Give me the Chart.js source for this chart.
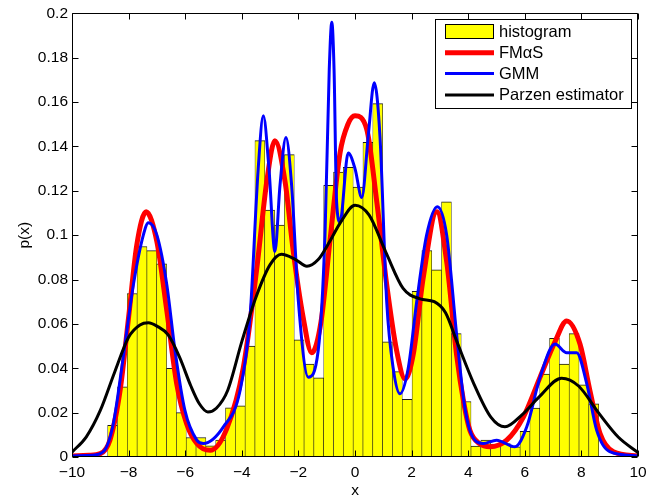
<!DOCTYPE html>
<html>
<head>
<meta charset="utf-8">
<script src="https://cdn.jsdelivr.net/npm/chart.js@4.4.1/dist/chart.umd.min.js"></script>
<style>
  body { margin: 0; background: #fff; }
  #wrap { width: 659px; height: 500px; }
</style>
</head>
<body>
<div id="wrap"><canvas id="pdfChart" width="659" height="500"></canvas></div>
<script>
// histogram: 50 bins, first edge and bin width
const histStart = -8.74;
const binWidth = 0.347;
const histValues = [
  0.0143, 0.0316, 0.0737, 0.0949, 0.0930, 0.0871, 0.0400, 0.0200, 0.0088, 0.0088,
  0.0050, 0.0076, 0.0222, 0.0231, 0.0500, 0.1426, 0.1113, 0.1045, 0.1363, 0.0528,
  0.0419, 0.0357, 0.1225, 0.1284, 0.1306, 0.1217, 0.1418, 0.1593, 0.0519, 0.0385,
  0.0260, 0.0747, 0.0931, 0.0844, 0.1150, 0.0556, 0.0250, 0.0049, 0.0076, 0.0058,
  0.0061, 0.0046, 0.0116, 0.0220, 0.0374, 0.0535, 0.0419, 0.0556, 0.0325, 0.0240
];

// FMaS curve (red)
const fmasX = [-10, -9.4, -9.0, -8.66, -8.3, -8.0, -7.71, -7.38, -7.0, -6.65, -6.3, -5.95, -5.59, -5.12,
  -4.53, -3.95, -3.47, -3.12, -2.83, -2.47, -2.18, -1.83, -1.53, -1.2, -0.88, -0.53, -0.25, 0, 0.41, 0.77,
  1.12, 1.47, 1.77, 2.06, 2.41, 2.89, 3.24, 3.59, 3.85, 4.06, 4.4, 4.77, 5.36, 5.95, 6.54, 7.07, 7.48,
  7.95, 8.3, 8.66, 9.13, 10];
const fmasY = [0.0005, 0.0008, 0.0015, 0.0076, 0.030, 0.063, 0.0956, 0.1105, 0.097, 0.066, 0.033, 0.015, 0.0061, 0.003,
  0.0128, 0.040, 0.085, 0.124, 0.1426, 0.124, 0.0926, 0.0628, 0.047, 0.061, 0.098, 0.137, 0.150, 0.1538, 0.148, 0.115,
  0.0777, 0.048, 0.0352, 0.0464, 0.0807, 0.1105, 0.088, 0.046, 0.024, 0.012, 0.006, 0.0046, 0.0076, 0.018, 0.036, 0.052, 0.0613,
  0.0509, 0.030, 0.0106, 0.0024, 0.0005];

// GMM curve (blue)
const gmmX = [-10, -9.3, -8.89, -8.54, -8.19, -7.83, -7.48, -7.3, -7.0, -6.65, -6.36, -6.01, -5.59, -5.36,
  -4.65, -4.06, -3.71, -3.42, -3.24, -3.04, -2.83, -2.65, -2.44, -2.24, -2.0, -1.65, -1.3, -1.06, -0.91,
  -0.82, -0.74, -0.65, -0.53, -0.24, 0, 0.24, 0.47, 0.68, 0.88, 1.12, 1.35, 1.59, 1.88, 2.18, 2.53, 2.91,
  3.24, 3.59, 3.85, 4.06, 4.53, 5.0, 5.65, 6.07, 6.54, 7.07, 7.48, 7.83, 8.19, 8.54, 9.0, 10];
const gmmY = [0.0005, 0.0008, 0.0024, 0.015, 0.045, 0.0777, 0.100, 0.1056, 0.100, 0.0777, 0.048, 0.021, 0.0076, 0.0061,
  0.0136, 0.030, 0.063, 0.130, 0.1538, 0.130, 0.0926, 0.1225, 0.144, 0.1225, 0.070, 0.036, 0.048, 0.100, 0.1746,
  0.196, 0.1746, 0.115, 0.106, 0.137, 0.130, 0.117, 0.145, 0.1687, 0.145, 0.070, 0.040, 0.0285, 0.040, 0.070, 0.100, 0.1128,
  0.100, 0.0553, 0.025, 0.012, 0.0061, 0.0076, 0.0046, 0.0136, 0.036, 0.0509, 0.047, 0.047, 0.033, 0.012, 0.0024, 0.0005];

// Parzen estimator (black)
const parzenX = [-10, -9.5, -9.0, -8.5, -8.0, -7.6, -7.3, -7.0, -6.6, -6.2, -5.8, -5.5, -5.2, -4.9, -4.5, -4.0,
  -3.5, -3.0, -2.6, -2.1, -1.7, -1.3, -0.9, -0.5, 0, 0.5, 1.1, 1.7, 2.3, 2.8, 3.2, 3.6, 4.2, 4.8, 5.3, 5.9,
  6.5, 7.3, 7.9, 8.6, 9.3, 10];
const parzenY = [0.0022, 0.009, 0.021, 0.038, 0.054, 0.0595, 0.0605, 0.059, 0.055, 0.045, 0.032, 0.024, 0.0203, 0.022, 0.030, 0.052,
  0.072, 0.0867, 0.0914, 0.089, 0.086, 0.089, 0.097, 0.106, 0.1135, 0.109, 0.092, 0.076, 0.0713, 0.070, 0.065, 0.052, 0.033, 0.018, 0.0136, 0.019,
  0.027, 0.0355, 0.032, 0.020, 0.009, 0.002];

const xTicks = [-10, -8, -6, -4, -2, 0, 2, 4, 6, 8, 10];
const yTicks = [0, 0.02, 0.04, 0.06, 0.08, 0.1, 0.12, 0.14, 0.16, 0.18, 0.2];

const seriesNames = ['histogram', 'FM\u03b1S', 'GMM', 'Parzen estimator'];
const seriesColors = ['#ffff00', '#ff0000', '#0000ff', '#000000'];

const FONT = 'Liberation Sans, Arial, Helvetica, sans-serif';

function pts(xs, ys) {
  return xs.map((x, i) => ({ x: x, y: ys[i] }));
}

const histData = histValues.map((v, i) => ({ x: histStart + binWidth * (i + 0.5), y: v }));

// frame + inward ticks on all four sides, matlab style
const boxPlugin = {
  id: 'boxPlugin',
  afterDatasetsDraw(chart) {
    const { ctx, chartArea: a, scales: { x, y } } = chart;
    const L = Math.round(a.left) + 0.5, R = Math.round(a.right) - 0.5;
    const T = Math.round(a.top) + 0.5, B = Math.round(a.bottom) - 0.5;
    ctx.save();
    ctx.strokeStyle = '#000';
    ctx.lineWidth = 1;
    ctx.beginPath();
    ctx.rect(L, T, R - L, B - T);
    xTicks.forEach(v => {
      const px = Math.round(x.getPixelForValue(v)) + 0.5;
      ctx.moveTo(px, B); ctx.lineTo(px, B - 6);
      ctx.moveTo(px, T); ctx.lineTo(px, T + 6);
    });
    yTicks.forEach(v => {
      const py = Math.round(y.getPixelForValue(v)) + 0.5;
      ctx.moveTo(L, py); ctx.lineTo(L + 6, py);
      ctx.moveTo(R, py); ctx.lineTo(R - 6, py);
    });
    ctx.stroke();
    ctx.restore();
  }
};

// legend box in the top right corner
const legendPlugin = {
  id: 'legendPlugin',
  afterDraw(chart) {
    const ctx = chart.ctx;
    const bx = 435.5, by = 19.5, bw = 196, bh = 89;
    ctx.save();
    ctx.fillStyle = '#fff';
    ctx.fillRect(bx, by, bw, bh);
    ctx.strokeStyle = '#000';
    ctx.lineWidth = 1;
    ctx.strokeRect(bx, by, bw, bh);
    const rows = [31.5, 52.7, 73.5, 95];
    const widths = [0, 5, 3, 3];
    rows.forEach((ry, i) => {
      if (i === 0) {
        ctx.fillStyle = seriesColors[0];
        ctx.fillRect(445.5, 24.5, 48, 14);
        ctx.strokeStyle = '#000';
        ctx.lineWidth = 1;
        ctx.strokeRect(445.5, 24.5, 48, 14);
      } else {
        ctx.strokeStyle = seriesColors[i];
        ctx.lineWidth = widths[i];
        ctx.beginPath();
        ctx.moveTo(445, ry);
        ctx.lineTo(494, ry);
        ctx.stroke();
      }
      ctx.fillStyle = '#000';
      ctx.font = '16.5px ' + FONT;
      ctx.textBaseline = 'middle';
      ctx.textAlign = 'left';
      ctx.fillText(seriesNames[i], 499, ry + 0.5);
    });
    ctx.restore();
  }
};

const ctx = document.getElementById('pdfChart').getContext('2d');
const pdfChart = new Chart(ctx, {
  type: 'bar',
  data: {
    datasets: [
      {
        type: 'line', label: seriesNames[3], data: pts(parzenX, parzenY),
        borderColor: seriesColors[3], borderWidth: 3, pointRadius: 0,
        cubicInterpolationMode: 'monotone', order: 0
      },
      {
        type: 'line', label: seriesNames[2], data: pts(gmmX, gmmY),
        borderColor: seriesColors[2], borderWidth: 3, pointRadius: 0,
        cubicInterpolationMode: 'monotone', order: 1
      },
      {
        type: 'line', label: seriesNames[1], data: pts(fmasX, fmasY),
        borderColor: seriesColors[1], borderWidth: 5, pointRadius: 0,
        cubicInterpolationMode: 'monotone', order: 2
      },
      {
        type: 'bar', label: seriesNames[0], data: histData,
        backgroundColor: seriesColors[0], borderColor: '#1a1a1a',
        borderWidth: { left: 0.6, right: 0.6, top: 1, bottom: 0 },
        borderSkipped: false,
        barPercentage: 1, categoryPercentage: 1, order: 3
      }
    ]
  },
  options: {
    responsive: false,
    animation: false,
    devicePixelRatio: 1,
    layout: { padding: { left: 0, right: 21, top: 10, bottom: 0 } },
    plugins: { legend: { display: false }, tooltip: { enabled: false } },
    scales: {
      x: {
        type: 'linear', min: -10, max: 10, offset: false,
        grid: { display: false, drawTicks: false },
        border: { display: false },
        afterBuildTicks: s => { s.ticks = xTicks.map(v => ({ value: v })); },
        afterFit: s => { s.height = 43; },
        ticks: {
          autoSkip: false, maxRotation: 0, padding: 6, color: '#000',
          font: { family: FONT, size: 15.5 },
          callback: v => String(v).replace('-', '\u2212')
        },
        title: {
          display: true, text: 'x', color: '#000',
          font: { family: FONT, size: 15.5 }, padding: { top: 0, bottom: 0 }
        }
      },
      y: {
        min: 0, max: 0.2,
        grid: { display: false, drawTicks: false },
        border: { display: false },
        afterBuildTicks: s => { s.ticks = yTicks.map(v => ({ value: v })); },
        afterFit: s => { s.width = 72; },
        ticks: {
          autoSkip: false, padding: 4, color: '#000',
          font: { family: FONT, size: 15.5 },
          callback: v => String(parseFloat(v.toFixed(2)))
        },
        title: {
          display: true, text: 'p(x)', color: '#000',
          font: { family: FONT, size: 15.5 }, padding: { top: 15, bottom: 0 }
        }
      }
    }
  },
  plugins: [boxPlugin, legendPlugin]
});
</script>
</body>
</html>
